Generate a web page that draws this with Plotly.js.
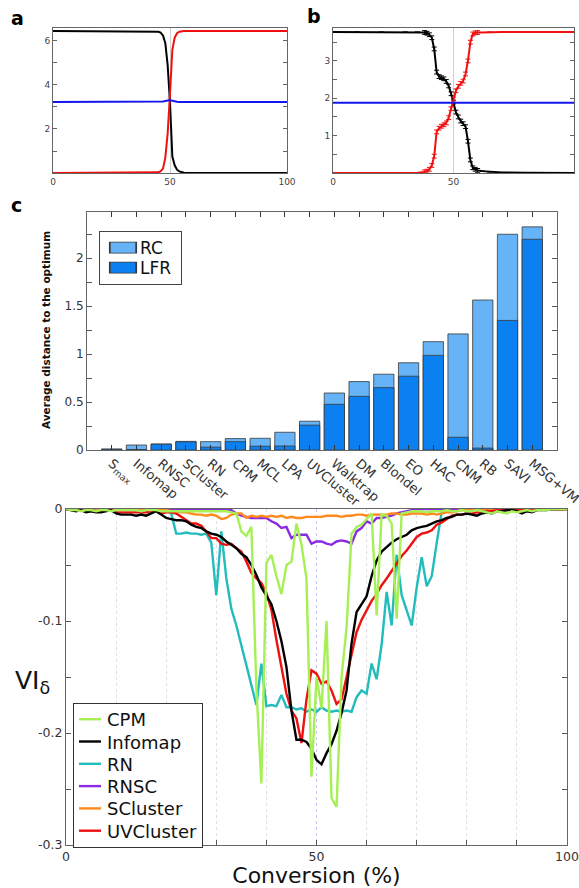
<!DOCTYPE html>
<html>
<head>
<meta charset="utf-8">
<script src="https://cdn.plot.ly/plotly-3.0.1.min.js"></script>
<style>
html,body{margin:0;padding:0;background:#fff;}
#chart{width:579px;height:888px;}
</style>
</head>
<body>
<div id="chart"></div>
<script>
// ---------- Panel a ----------
const aX = [0,10,20,30,40,42,44,45,46,47,48,49,50,51,52,53,54,55,56,58,60,70,80,90,100];
const aBlack = [6.45,6.45,6.45,6.45,6.45,6.45,6.44,6.42,6.38,6.25,5.9,4.9,3.2,0.75,0.35,0.15,0.07,0.03,0.01,0.005,0,0,0,0,0];
const aRed = [0,0,0,0,0,0.005,0.01,0.03,0.08,0.2,0.7,1.8,3.6,5.6,6.15,6.35,6.42,6.45,6.45,6.45,6.45,6.45,6.45,6.45,6.45];
const aBlue = [3.23,3.23,3.23,3.23,3.23,3.23,3.23,3.23,3.24,3.25,3.27,3.3,3.32,3.28,3.25,3.24,3.23,3.23,3.23,3.23,3.23,3.23,3.23,3.23,3.23];

// ---------- Panel b ----------
const bX = [0,10,20,30,35,38,39,40,41,42,43,44,45,46,47,48,49,50,51,52,53,54,55,56,57,58,59,60,62,65,70,80,90,100];
const bBlack = [3.77,3.77,3.77,3.77,3.77,3.76,3.74,3.7,3.62,3.32,2.7,2.58,2.55,2.52,2.45,2.33,2.12,1.9,1.63,1.5,1.39,1.32,1.24,0.85,0.35,0.14,0.1,0.07,0.05,0.03,0.015,0.005,0,0];
const bRed = [0,0,0,0,0.005,0.03,0.05,0.1,0.2,0.45,1.1,1.2,1.25,1.29,1.34,1.48,1.72,1.98,2.2,2.32,2.4,2.46,2.65,3.0,3.5,3.72,3.75,3.76,3.76,3.77,3.77,3.77,3.77,3.77];
const bBlue = [1.88,1.88,1.88,1.88,1.88,1.88,1.88,1.88,1.88,1.88,1.88,1.88,1.88,1.88,1.88,1.88,1.88,1.88,1.88,1.88,1.88,1.88,1.88,1.88,1.88,1.88,1.88,1.88,1.88,1.88,1.88,1.88,1.88,1.88];
const bErr = [0,0,0,0,0,0.05,0.05,0.05,0.05,0.05,0.05,0.05,0.05,0.05,0.05,0.05,0.05,0.05,0.05,0.05,0.05,0.05,0.05,0.05,0.05,0.05,0.05,0.05,0,0,0,0,0,0];

// ---------- Panel c ----------
const methods = ['S<sub>max</sub>','Infomap','RNSC','SCluster','RN','CPM','MCL','LPA','UVCluster','Walktrap','DM','Blondel','EO','HAC','CNM','RB','SAVI','MSG+VM'];
const rcValues  = [0.01,0.052,0.063,0.09,0.087,0.119,0.122,0.185,0.30,0.594,0.713,0.79,0.909,1.129,1.21,1.563,2.248,2.325];
const lfrValues = [0.008,0.005,0.06,0.085,0.03,0.087,0.04,0.042,0.259,0.476,0.559,0.65,0.769,0.986,0.133,0.02,1.35,2.196];

// ---------- Panel d ----------
const conversion = [];
for (let i = 0; i <= 100; i++) conversion.push(i);

const cpm = [0,-0.001,-0.001,-0.002,-0.001,-0.001,-0.002,-0.001,-0.001,-0.002,
 -0.001,-0.001,-0.001,-0.001,-0.001,-0.002,-0.001,-0.001,-0.001,-0.002,
 -0.002,-0.002,-0.002,-0.002,-0.002,-0.002,-0.002,-0.002,-0.002,-0.002,
 -0.002,-0.002,-0.002,-0.003,-0.004,-0.02,-0.024,-0.016,-0.16,-0.245,
 -0.048,-0.041,-0.06,-0.076,-0.05,-0.047,-0.013,-0.032,-0.062,-0.239,
 -0.15,-0.178,-0.1,-0.258,-0.266,-0.15,-0.106,-0.022,-0.016,-0.014,
 -0.009,-0.004,-0.095,-0.005,-0.006,-0.013,-0.098,-0.004,-0.003,-0.002,
 -0.002,-0.002,-0.003,-0.002,-0.002,-0.002,-0.001,-0.002,-0.002,-0.001,
 -0.002,-0.002,-0.001,-0.002,-0.003,-0.004,-0.002,-0.003,-0.004,-0.002,
 -0.003,-0.002,-0.001,-0.002,-0.001,-0.001,-0.001,0,0,0,0];

const infomap = [0,-0.001,-0.002,-0.001,-0.003,-0.002,-0.003,-0.003,-0.002,-0.001,
 -0.004,-0.005,-0.005,-0.005,-0.006,-0.005,-0.006,-0.004,-0.002,-0.005,
 -0.008,-0.009,-0.01,-0.01,-0.011,-0.014,-0.016,-0.017,-0.02,-0.022,
 -0.023,-0.025,-0.029,-0.032,-0.035,-0.04,-0.043,-0.05,-0.059,-0.07,
 -0.078,-0.085,-0.1,-0.118,-0.141,-0.18,-0.206,-0.206,-0.208,-0.214,
 -0.224,-0.228,-0.218,-0.21,-0.198,-0.182,-0.162,-0.12,-0.092,-0.085,
 -0.078,-0.06,-0.046,-0.038,-0.034,-0.03,-0.027,-0.025,-0.023,-0.019,
 -0.017,-0.016,-0.015,-0.013,-0.011,-0.01,-0.008,-0.007,-0.005,-0.005,
 -0.004,-0.005,-0.006,-0.004,-0.003,-0.004,-0.002,-0.002,-0.001,-0.001,
 -0.002,-0.004,-0.002,-0.003,-0.001,-0.001,-0.001,0,0,0,0];

const rn = [0,0,0,0,0,0,0,0,0,0,
 0,0,0,0,0,0,0,0,0,0,
 -0.001,-0.004,-0.022,-0.022,-0.021,-0.022,-0.022,-0.023,-0.022,-0.03,
 -0.077,-0.02,-0.062,-0.089,-0.104,-0.122,-0.14,-0.158,-0.175,-0.138,
 -0.176,-0.175,-0.176,-0.166,-0.177,-0.177,-0.179,-0.178,-0.181,-0.179,
 -0.181,-0.177,-0.18,-0.181,-0.18,-0.181,-0.18,-0.181,-0.168,-0.162,
 -0.165,-0.138,-0.152,-0.121,-0.074,-0.104,-0.041,-0.077,-0.09,-0.104,
 -0.07,-0.043,-0.069,-0.06,-0.03,-0.002,0,0,0,0,
 0,0,0,0,0,0,0,0,0,0,
 0,0,0,0,0,0,0,0,0,0,0];

const rnsc = [0,0,0,0,0,0,0,0,0,0,
 0,0,0,0,0,0,0,0,0,0,
 0,0,0,0,0,0,0,0,0,0,
 0,0,0,-0.001,-0.004,-0.006,-0.007,-0.008,-0.008,-0.008,
 -0.008,-0.011,-0.013,-0.017,-0.016,-0.026,-0.023,-0.023,-0.023,-0.031,
 -0.029,-0.029,-0.031,-0.032,-0.029,-0.028,-0.029,-0.031,-0.02,-0.017,
 -0.011,-0.013,-0.008,-0.008,-0.007,-0.006,-0.004,-0.003,-0.002,-0.001,
 0,0,0,0,0,0,0,0,0,0,
 0,0,0,0,0,0,0,0,0,0,
 0,0,0,0,0,0,0,0,0,0,0];

const scluster = [0,0,0,0,0,0,0,0,0,0,
 0,0,0,0,0,-0.001,0,0,0,-0.001,
 -0.001,-0.002,-0.002,-0.003,-0.003,-0.004,-0.005,-0.005,-0.006,-0.005,
 -0.006,-0.009,-0.008,-0.005,-0.004,-0.004,-0.008,-0.006,-0.007,-0.006,
 -0.007,-0.006,-0.007,-0.006,-0.008,-0.007,-0.008,-0.008,-0.007,-0.007,
 -0.007,-0.007,-0.006,-0.006,-0.006,-0.007,-0.006,-0.006,-0.005,-0.005,
 -0.006,-0.005,-0.005,-0.005,-0.005,-0.004,-0.004,-0.005,-0.005,-0.004,
 -0.004,-0.004,-0.005,-0.004,-0.005,-0.004,-0.003,-0.003,-0.002,-0.001,
 0,0,0,0,0,0,0,0,0,0,
 0,0,0,0,0,0,0,0,0,0,0];

const uvcluster = [0,-0.001,-0.001,-0.001,-0.002,-0.001,-0.002,-0.002,-0.001,-0.001,
 -0.003,-0.003,-0.003,-0.003,-0.003,-0.003,-0.003,-0.002,-0.001,-0.004,
 -0.003,-0.003,-0.004,-0.007,-0.01,-0.013,-0.013,-0.015,-0.02,-0.026,
 -0.026,-0.031,-0.032,-0.031,-0.035,-0.038,-0.047,-0.057,-0.062,-0.066,
 -0.075,-0.09,-0.117,-0.14,-0.165,-0.18,-0.187,-0.209,-0.17,-0.144,
 -0.147,-0.156,-0.154,-0.162,-0.174,-0.17,-0.15,-0.13,-0.11,-0.099,
 -0.09,-0.082,-0.076,-0.068,-0.062,-0.055,-0.048,-0.042,-0.037,-0.031,
 -0.025,-0.022,-0.021,-0.019,-0.014,-0.012,-0.009,-0.006,-0.005,-0.005,
 -0.004,-0.004,-0.003,-0.003,-0.002,-0.002,-0.001,-0.001,-0.001,-0.001,
 -0.001,-0.001,-0.001,0,0,0,0,0,0,0,0];

const seriesNames = ['CPM','Infomap','RN','RNSC','SCluster','UVCluster'];
const seriesColors = ['#a6f055','#000000','#22bcbc','#8a2be2','#ff8a1c','#ee1111'];

// ---------- helpers ----------
const W = 579, H = 888;
const PX = p => p / W;
const PY = p => 1 - p / H;
const FONT = 'DejaVu Sans';

const traces = [];
function line(x, y, color, xa, ya, extra) {
  return Object.assign({type:'scatter', mode:'lines', x:x, y:y, xaxis:xa, yaxis:ya,
    line:{color:color, width:2}, showlegend:false, cliponaxis:false, hoverinfo:'skip'}, extra||{});
}
traces.push(line(aX, aBlack, '#000', 'x', 'y'));
traces.push(line(aX, aRed, '#f01010', 'x', 'y'));
traces.push(line(aX, aBlue, '#1515ee', 'x', 'y'));

const errB = {type:'data', array:bErr, visible:true, thickness:1, width:2.5};
traces.push(line(bX, bBlack, '#000', 'x2', 'y2', {error_y:Object.assign({color:'#000'}, errB)}));
traces.push(line(bX, bRed, '#f01010', 'x2', 'y2', {error_y:Object.assign({color:'#f01010'}, errB)}));
traces.push(line(bX, bBlue, '#1515ee', 'x2', 'y2'));

traces.push({type:'bar', name:'RC', x:methods, y:rcValues, xaxis:'x3', yaxis:'y3', width:0.82,
  marker:{color:'#66b3f7', line:{color:'#3a3a3a', width:0.8}}, legend:'legend2', hoverinfo:'skip'});
traces.push({type:'bar', name:'LFR', x:methods, y:lfrValues, xaxis:'x3', yaxis:'y3', width:0.82,
  marker:{color:'#0b80f0', line:{color:'#3a3a3a', width:0.8}}, legend:'legend2', hoverinfo:'skip'});

const dData = {CPM:cpm, Infomap:infomap, RN:rn, RNSC:rnsc, SCluster:scluster, UVCluster:uvcluster};
const drawOrder = ['RN','RNSC','SCluster','UVCluster','Infomap','CPM'];
drawOrder.forEach(name => {
  const i = seriesNames.indexOf(name);
  traces.push({type:'scatter', mode:'lines', name:name, x:conversion, y:dData[name],
    xaxis:'x4', yaxis:'y4', line:{color:seriesColors[i], width:2.4}, cliponaxis:false,
    legend:'legend', legendrank:i+1, hoverinfo:'skip'});
});

const boxColor = '#666';
const smallTick = {family:FONT, size:9, color:'#444'};

const layout = {
  width:W, height:H, margin:{l:0,r:0,t:0,b:0},
  paper_bgcolor:'#fff', plot_bgcolor:'#fff',
  font:{family:FONT, color:'#222'},
  barmode:'overlay',
  // panel a
  xaxis:{domain:[PX(53),PX(287)], anchor:'y', range:[0,100], tickvals:[0,50,100],
    showgrid:true, gridcolor:'#cfcfcf', gridwidth:1, zeroline:false, showline:true, linecolor:boxColor, mirror:true,
    ticks:'', tickfont:smallTick},
  yaxis:{domain:[PY(173),PY(28)], anchor:'x', range:[0,6.59], tickvals:[2,4,6],
    minor:{tickvals:[1,3,5], ticks:'inside', ticklen:4, tickcolor:'#666'},
    showgrid:false, zeroline:false, showline:true, linecolor:boxColor, mirror:'ticks',
    ticks:'inside', ticklen:4, tickcolor:'#666', tickfont:smallTick},
  // panel b
  xaxis2:{domain:[PX(333),PX(574)], anchor:'y2', range:[0,100], tickvals:[0,50,100],
    showgrid:true, gridcolor:'#cfcfcf', gridwidth:1, zeroline:false, showline:true, linecolor:boxColor, mirror:true,
    ticks:'', tickfont:smallTick},
  yaxis2:{domain:[PY(173),PY(28)], anchor:'x2', range:[0,3.88], tickvals:[1,2,3],
    minor:{tickvals:[0.5,1.5,2.5,3.5], ticks:'inside', ticklen:4, tickcolor:'#666'},
    showgrid:false, zeroline:false, showline:true, linecolor:boxColor, mirror:'ticks',
    ticks:'inside', ticklen:4, tickcolor:'#666', tickfont:smallTick},
  // panel c
  xaxis3:{domain:[PX(87),PX(557)], anchor:'y3', type:'category', range:[-1.0,18.0],
    showgrid:false, zeroline:false, showline:true, linecolor:boxColor, mirror:'ticks',
    ticks:'inside', ticklen:5, tickcolor:'#333', tickangle:40,
    tickfont:{family:FONT, size:13, color:'#333'}},
  yaxis3:{domain:[PY(450),PY(212)], anchor:'x3', range:[0,2.48],
    tickvals:[0,0.5,1,1.5,2], ticktext:['0','0.5','1','1.5','2'],
    minor:{tickvals:[0.25,0.75,1.25,1.75,2.25], ticks:'inside', ticklen:5, tickcolor:'#555'},
    showgrid:false, zeroline:false, showline:true, linecolor:boxColor, mirror:'ticks',
    ticks:'inside', ticklen:5, tickcolor:'#555', tickfont:{family:FONT, size:12, color:'#333'}},
  // panel d
  xaxis4:{domain:[PX(66),PX(567)], anchor:'y4', range:[0,100], tickvals:[0,50,100],
    showgrid:true, gridcolor:'#c4c4ee', griddash:'dot', gridwidth:1, zeroline:false,
    showline:true, linecolor:boxColor, mirror:true,
    ticks:'inside', ticklen:5, tickcolor:'#555',
    minor:{tickvals:[10,20,30,40,60,70,80,90], ticks:'inside', ticklen:5, tickcolor:'#555', showgrid:true, gridcolor:'#dedee4', griddash:'dot', gridwidth:1},
    tickfont:{family:FONT, size:12.5, color:'#333'},
    title:{text:'Conversion (%)', font:{family:FONT, size:22, color:'#111'}, standoff:4}},
  yaxis4:{domain:[PY(845),PY(509)], anchor:'x4', range:[-0.3,0],
    tickvals:[-0.3,-0.2,-0.1,0], ticktext:['-0.3','-0.2','-0.1','0'],
    minor:{tickvals:[-0.25,-0.15,-0.05], ticks:'inside', ticklen:5, tickcolor:'#555'},
    showgrid:false, zeroline:false, showline:true, linecolor:boxColor, mirror:'ticks',
    ticks:'inside', ticklen:5, tickcolor:'#555', tickfont:{family:FONT, size:12.5, color:'#333'}},
  legend:{x:PX(73), y:PY(703), xanchor:'left', yanchor:'top', bgcolor:'#fff', bordercolor:'#333', borderwidth:1,
    font:{family:FONT, size:18, color:'#111'}, tracegroupgap:0, itemwidth:30, traceorder:'normal'},
  legend2:{x:PX(99), y:PY(231), xanchor:'left', yanchor:'top', bgcolor:'#fff', bordercolor:'#444', borderwidth:1,
    font:{family:FONT, size:17, color:'#111'}, tracegroupgap:0, itemwidth:30},
  annotations:[
    {text:'<b>a</b>', xref:'paper', yref:'paper', x:PX(9), y:PY(18), xanchor:'left', yanchor:'middle', showarrow:false,
      font:{family:FONT, size:19, color:'#000'}},
    {text:'<b>b</b>', xref:'paper', yref:'paper', x:PX(305), y:PY(16), xanchor:'left', yanchor:'middle', showarrow:false,
      font:{family:FONT, size:19, color:'#000'}},
    {text:'<b>c</b>', xref:'paper', yref:'paper', x:PX(9), y:PY(205), xanchor:'left', yanchor:'middle', showarrow:false,
      font:{family:FONT, size:19, color:'#000'}},
    {text:'<b>Average distance to the optimum</b>', xref:'paper', yref:'paper', x:PX(46), y:PY(330), textangle:-90,
      xanchor:'center', yanchor:'middle', showarrow:false, font:{family:FONT, size:10.5, color:'#111'}},
    {text:'VI<sub>δ</sub>', xref:'paper', yref:'paper', x:PX(13), y:PY(682), xanchor:'left', yanchor:'middle', showarrow:false,
      font:{family:FONT, size:25, color:'#111'}}
  ]
};

// Tighten legend rows to the reference spacing (styling only)
function tightenLegend(g, spacing, shiftUp, sampleLen, textShift, symTransform) {
  if (!g) return;
  const items = Array.from(g.querySelectorAll('g.traces'));
  if (!items.length) return;
  const parse = t => {
    const m = /translate\(\s*([-\d.e]+)[ ,]+([-\d.e]+)\s*\)/.exec(t.getAttribute('transform') || '');
    return m ? [parseFloat(m[1]), parseFloat(m[2])] : [0, 0];
  };
  const pos = items.map(parse);
  const y0 = pos[0][1];
  const oldSpan = pos[pos.length-1][1] - y0;
  items.forEach((t, i) => {
    t.setAttribute('transform', 'translate(' + pos[i][0] + ',' + (y0 - shiftUp + i*spacing) + ')');
    if (sampleLen) {
      t.querySelectorAll('g.legendlines path').forEach(p => p.setAttribute('d', 'M5,0h' + sampleLen));
    }
    if (symTransform) {
      t.querySelectorAll('g.legendpoints path').forEach(p => p.setAttribute('transform', symTransform));
    }
    if (textShift) {
      const tx = t.querySelector('text.legendtext');
      if (tx) tx.setAttribute('x', parseFloat(tx.getAttribute('x')) - textShift);
    }
  });
  const newSpan = (items.length-1)*spacing;
  const bg = g.querySelector('rect.bg');
  if (bg) {
    bg.setAttribute('height', parseFloat(bg.getAttribute('height')) - (oldSpan - newSpan) - 2*shiftUp);
    if (textShift) bg.setAttribute('width', parseFloat(bg.getAttribute('width')) - textShift);
  }
}

Plotly.newPlot('chart', traces, layout, {staticPlot:true, displayModeBar:false}).then(gd => {
  const groups = Array.from(gd.querySelectorAll('g.infolayer > g'));
  const legD = groups.find(g => g.classList.contains('legend'));
  const legC = groups.find(g => g.classList.contains('legend2'));
  tightenLegend(legD, 22.3, 3, 22, 7, null);
  tightenLegend(legC, 20, 2, 0, -4, 'translate(23,0) scale(2.2,0.92)');
});
</script>
</body>
</html>
